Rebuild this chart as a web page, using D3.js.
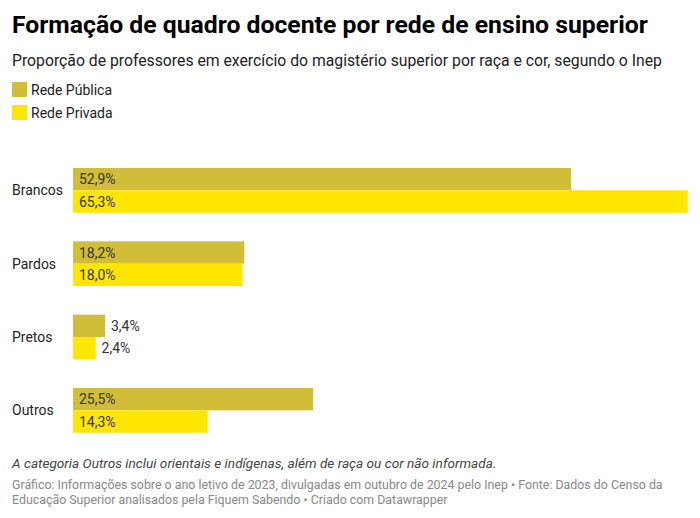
<!DOCTYPE html>
<html><head><meta charset="utf-8">
<script src="https://cdn.jsdelivr.net/npm/d3@7"></script>
<style>
body{margin:0;background:#fff;font-family:Roboto,sans-serif;}
</style></head><body>
<svg id="c" width="700" height="518"></svg>
<script>
const categories = ["Brancos","Pardos","Pretos","Outros"];
const publica = [52.9, 18.2, 3.4, 25.5];
const privada = [65.3, 18.0, 2.4, 14.3];
const seriesNames = ["Rede Pública","Rede Privada"];
const colors = ["#d2bd38","#ffe600"];

const svg = d3.select("#c");
function fitText(sel, target){
  const fs = +sel.attr("font-size");
  const w = sel.node().getComputedTextLength();
  if (w > 0) sel.attr("font-size", (fs * target / w).toFixed(2));
  return sel;
}
fitText(svg.append("text").attr("x",12).attr("y",33).attr("font-size",24).attr("font-weight",700).attr("fill","#000")
  .text("Formação de quadro docente por rede de ensino superior"), 636);
fitText(svg.append("text").attr("x",12).attr("y",66).attr("font-size",16).attr("fill","#222")
  .text("Proporção de professores em exercício do magistério superior por raça e cor, segundo o Inep"), 650);

seriesNames.forEach((n,i)=>{
  const y = 82 + i*23;
  svg.append("rect").attr("x",12).attr("y",y).attr("width",15).attr("height",15).attr("fill",colors[i]);
  svg.append("text").attr("x",31).attr("y",y+12.5).attr("font-size",14).attr("fill","#222").text(n);
});

const x = d3.scaleLinear().domain([0,65.3]).range([73,687.7]);
const y = d3.scaleBand().domain(categories).range([168,432.7]).paddingInner(0.39).paddingOuter(0);
const sub = d3.scaleBand().domain([0,1]).range([0,y.bandwidth()]);

const fmt = v => d3.format(".1f")(v).replace(".",",") + "%";

const g = svg.append("g");
categories.forEach((c,ci)=>{
  const y0 = y(c);
  g.append("text").attr("x",12).attr("y",y0+y.bandwidth()/2+5).attr("font-size",14).attr("fill","#222").text(c);
  [publica,privada].forEach((arr,si)=>{
    const v = arr[ci];
    const by = y0 + sub(si);
    const w = x(v)-x(0);
    g.append("rect").attr("x",x(0)).attr("y",by).attr("width",w).attr("height",sub.bandwidth()).attr("fill",colors[si]);
    const inside = w > 50;
    g.append("text").attr("x", inside ? x(0)+6 : x(v)+6).attr("y",by+sub.bandwidth()/2+5)
      .attr("font-size",14).attr("fill","#333").text(fmt(v));
  });
});

fitText(svg.append("text").attr("x",12).attr("y",468).attr("font-size",14).attr("font-style","italic").attr("fill","#444")
  .text("A categoria Outros inclui orientais e indígenas, além de raça ou cor não informada."), 485);
const f1 = svg.append("text").attr("x",12).attr("y",489).attr("font-size",12.5).attr("fill","#888")
  .text("Gráfico: Informações sobre o ano letivo de 2023, divulgadas em outubro de 2024 pelo Inep • Fonte: Dados do Censo da");
fitText(f1, 651);
svg.append("text").attr("x",12).attr("y",504).attr("font-size",f1.attr("font-size")).attr("fill","#888")
  .text("Educação Superior analisados pela Fiquem Sabendo • Criado com Datawrapper");
</script></body></html>
